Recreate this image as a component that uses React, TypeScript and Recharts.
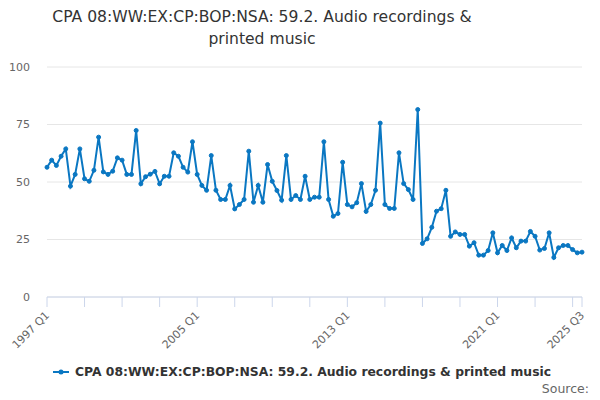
import React from "react"
import { LineChart, Line, XAxis, YAxis, CartesianGrid } from "recharts"

const startYear = 1997

// quarterly index values, 1997 Q1 .. 2025 Q3
const values = [
  56.4, 59.5, 57.2, 61.2, 64.4, 48.2, 53.3, 64.4, 51.4, 50.3, 55.1, 69.5,
  54.4, 53.3, 54.7, 60.5, 59.5, 53.3, 53.3, 72.4, 49.2, 52.3, 53.4, 54.6,
  49.2, 52.5, 52.5, 62.7, 61.2, 56.4, 54.3, 67.5, 53.3, 48.5, 46.4, 61.5,
  46.4, 42.4, 42.4, 48.5, 38.3, 40.2, 42.4, 63.4, 41.2, 48.5, 41.2, 57.6,
  50.3, 46.3, 42.1, 61.5, 42.4, 44.1, 42.4, 52.5, 42.4, 43.4, 43.4, 67.5,
  42.4, 35.1, 36.3, 58.6, 40.2, 39.2, 41.0, 49.3, 37.2, 40.2, 46.4, 75.6,
  40.2, 38.5, 38.5, 62.7, 49.3, 46.7, 42.4, 81.5, 23.3, 25.3, 30.3, 37.3,
  38.4, 46.4, 26.4, 28.3, 27.2, 27.2, 22.1, 23.6, 18.2, 18.2, 20.2, 27.9,
  19.2, 22.4, 20.2, 25.7, 21.4, 24.3, 24.3, 28.5, 26.4, 20.4, 21.1, 27.9,
  17.2, 21.4, 22.4, 22.4, 20.6, 19.2, 19.5,
]

const quarters = values.map(
  (_, i) => `${startYear + Math.floor(i / 4)} Q${(i % 4) + 1}`
)

const labelledTicks = ["1997 Q1", "2005 Q1", "2013 Q1", "2021 Q1", "2025 Q3"]
const yTicks = [0, 25, 50, 75, 100]

const seriesName = "CPA 08:WW:EX:CP:BOP:NSA: 59.2. Audio recordings & printed music"
const blue = "#0a77c2"

const data = values.map((v, i) => ({ i, q: quarters[i], v }))

// tick marks every two years plus the last quarter
const xTicks = [...quarters.map((_, i) => i).filter((i) => i % 8 === 0), quarters.length - 1]

function QuarterTick(props: any) {
  const { x, y, payload } = props
  const label = quarters[payload.value]
  if (!labelledTicks.includes(label)) return null
  const tx = x + 3
  const ty = y + 9
  return (
    <text
      x={tx}
      y={ty}
      transform={`rotate(-45, ${tx}, ${ty})`}
      textAnchor="end"
      fontSize={11}
      fill="#666"
      fontFamily="DejaVu Sans"
    >
      {label}
    </text>
  )
}

export default function App() {
  return (
    <div
      style={{
        position: "absolute",
        left: 0,
        top: 0,
        width: 600,
        height: 400,
        background: "#fff",
        fontFamily: "DejaVu Sans",
      }}
    >
      <div
        style={{
          position: "absolute",
          left: 32,
          width: 460,
          top: 6,
          textAlign: "center",
          fontSize: 15.6,
          lineHeight: "22px",
          color: "#333",
        }}
      >
        CPA 08:WW:EX:CP:BOP:NSA: 59.2. Audio recordings &amp; printed music
      </div>
      <LineChart
        width={600}
        height={400}
        data={data}
        margin={{ top: 67, right: 18, left: 7, bottom: 43 }}
      >
        <CartesianGrid vertical={false} stroke="#e6e6e6" />
        <XAxis
          dataKey="i"
          type="number"
          domain={[0, quarters.length - 1]}
          ticks={xTicks}
          interval={0}
          height={60}
          tickSize={10}
          tickMargin={0}
          axisLine={{ stroke: "#ccd6eb" }}
          tickLine={{ stroke: "#ccd6eb" }}
          tick={<QuarterTick />}
        />
        <YAxis
          domain={[0, 100]}
          ticks={yTicks}
          width={40}
          axisLine={false}
          tickLine={false}
          tickSize={0}
          tickMargin={17}
          tick={{ fontSize: 11, fill: "#666", fontFamily: "DejaVu Sans" }}
        />
        <Line
          dataKey="v"
          stroke={blue}
          strokeWidth={2}
          dot={{ r: 2, fill: blue, stroke: blue, strokeWidth: 1 }}
          isAnimationActive={false}
        />
      </LineChart>
      <div
        style={{
          position: "absolute",
          left: 53,
          top: 365,
          display: "flex",
          alignItems: "center",
          fontSize: 12.35,
          fontWeight: "bold",
          color: "#333",
        }}
      >
        <svg width={16} height={10} style={{ marginRight: 6 }}>
          <line x1={0} y1={5} x2={16} y2={5} stroke={blue} strokeWidth={2} />
          <circle cx={8} cy={5} r={2.5} fill={blue} />
        </svg>
        {seriesName}
      </div>
      <div
        style={{
          position: "absolute",
          right: 11,
          top: 381,
          fontSize: 12.5,
          color: "#666",
        }}
      >
        Source:
      </div>
    </div>
  )
}
